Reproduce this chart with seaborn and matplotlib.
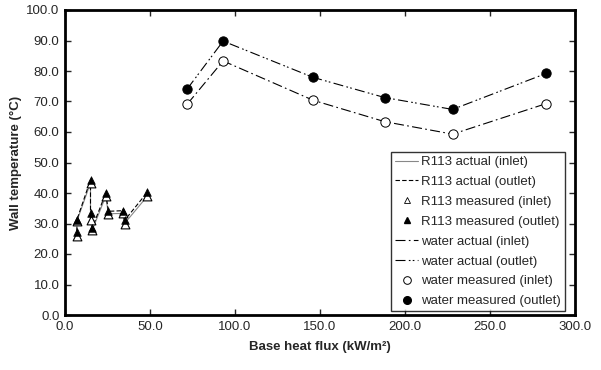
import matplotlib
matplotlib.use("Agg")
import matplotlib.pyplot as plt
import seaborn as sns
import pandas as pd
from matplotlib.lines import Line2D

sns.set_style("ticks")
plt.rcParams['font.family'] = ['Liberation Sans', 'DejaVu Sans']

# R113 data (zig-zag order as plotted)
r113_x = [7, 7, 15, 15, 16, 24, 25.5, 34, 35, 48.5]
r113_in = [25.8, 30.8, 43.3, 31.0, 27.8, 39.0, 33.2, 33.3, 30.0, 39.0]
r113_out = [27.3, 31.2, 44.3, 33.3, 28.5, 40.0, 34.0, 34.2, 31.0, 40.3]

# water data
water_x = [72, 93, 146, 188, 228, 283]
water_in = [69.2, 83.3, 70.4, 63.4, 59.3, 69.3]
water_out = [74.2, 89.8, 77.9, 71.3, 67.4, 79.2]

xticks = [0, 50, 100, 150, 200, 250, 300]
yticks = [0, 10, 20, 30, 40, 50, 60, 70, 80, 90, 100]

fs = 9.5
fig = plt.figure(figsize=(6.01, 3.70), dpi=100)
ax = fig.add_axes([65/601, 55/370, 510/601, 305/370])

lw = 0.8
ls_r_out = (0, (4, 2))
ls_w_in = (0, (9, 3, 1.5, 3))
ls_w_out = (0, (9, 3, 1.5, 2, 1.5, 3))
sns.lineplot(x=r113_x, y=r113_in, sort=False, estimator=None, color="#888888", lw=lw, ax=ax)
sns.lineplot(x=r113_x, y=r113_out, sort=False, estimator=None, color="black", lw=lw,
             linestyle=ls_r_out, ax=ax)
sns.lineplot(x=water_x, y=water_in, sort=False, estimator=None, color="black", lw=lw,
             linestyle=ls_w_in, ax=ax)
sns.lineplot(x=water_x, y=water_out, sort=False, estimator=None, color="black", lw=lw,
             linestyle=ls_w_out, ax=ax)

sns.scatterplot(x=r113_x, y=r113_in, marker="^", s=40, facecolor="white", edgecolor="black",
                linewidth=0.8, ax=ax, zorder=3)
sns.scatterplot(x=r113_x, y=r113_out, marker="^", s=30, color="black", edgecolor="black",
                linewidth=0.5, ax=ax, zorder=4)
sns.scatterplot(x=water_x, y=water_in, marker="o", s=45, facecolor="white", edgecolor="black",
                linewidth=0.7, ax=ax, zorder=3)
sns.scatterplot(x=water_x, y=water_out, marker="o", s=45, color="black", edgecolor="black",
                linewidth=0.7, ax=ax, zorder=4)

ax.set_xlim(0, 300)
ax.set_ylim(0, 100)
ax.set_xticks(xticks)
ax.set_yticks(yticks)
ax.set_xticklabels([f"{v:.1f}" for v in xticks], fontsize=fs)
ax.set_yticklabels([f"{v:.1f}" for v in yticks], fontsize=fs)
ax.tick_params(direction="in", length=4, width=1, top=True, right=True, pad=4)
for sp in ax.spines.values():
    sp.set_linewidth(2)
    sp.set_color("black")
ax.set_xlabel("Base heat flux (kW/m²)", fontsize=fs, fontweight="bold", labelpad=6)
ax.set_ylabel("Wall temperature (°C)", fontsize=fs, fontweight="bold", labelpad=3)

handles = [
    Line2D([], [], color="#888888", lw=lw),
    Line2D([], [], color="black", lw=lw, linestyle=ls_r_out),
    Line2D([], [], marker="^", ls="none", mfc="white", mec="black", ms=5, mew=0.6),
    Line2D([], [], marker="^", ls="none", mfc="black", mec="black", ms=5),
    Line2D([], [], color="black", lw=lw, linestyle=ls_w_in),
    Line2D([], [], color="black", lw=lw, linestyle=ls_w_out),
    Line2D([], [], marker="o", ls="none", mfc="white", mec="black", ms=5.5, mew=0.7),
    Line2D([], [], marker="o", ls="none", mfc="black", mec="black", ms=5.5),
]
labels = ["R113 actual (inlet)", "R113 actual (outlet)", "R113 measured (inlet)",
          "R113 measured (outlet)", "water actual (inlet)", "water actual (outlet)",
          "water measured (inlet)", "water measured (outlet)"]
leg = ax.legend(handles, labels, loc="lower right", bbox_to_anchor=(0.98, 0.012),
                fontsize=fs, frameon=True, fancybox=False, edgecolor="black",
                handlelength=1.8, handletextpad=0.2, borderpad=0.3, labelspacing=0.58,
                borderaxespad=0)
leg.get_frame().set_linewidth(1.0)

fig.savefig("out.png", dpi=100)
